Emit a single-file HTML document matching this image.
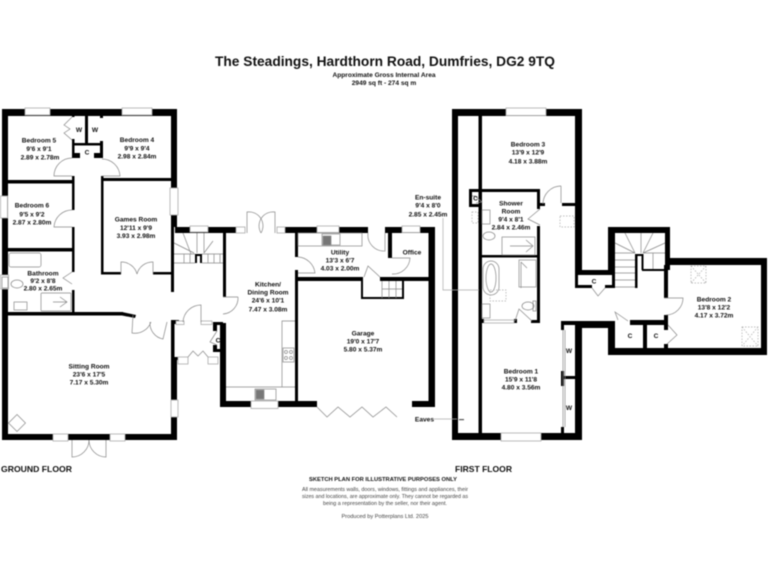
<!DOCTYPE html>
<html><head><meta charset="utf-8"><title>The Steadings floor plan</title>
<style>
html,body{margin:0;padding:0;background:#fff;width:768px;height:576px;overflow:hidden}
svg{display:block;filter:blur(.45px)}
text{font-family:"Liberation Sans",sans-serif;fill:#111}
.r{font-size:6.6px;font-weight:bold;text-anchor:middle;fill:#222}
.t{font-size:5.3px;fill:#444;text-anchor:middle}
.w rect{fill:#000}
.win rect{fill:#fff;stroke:#aaa;stroke-width:.8}
.f *{fill:none;stroke:#888;stroke-width:.7}
.s *{fill:none;stroke:#aaa;stroke-width:.7;stroke-dasharray:1.5 1.5}
</style></head><body>
<svg width="768" height="576" viewBox="0 0 768 576" xmlns="http://www.w3.org/2000/svg">
<rect width="768" height="576" fill="#fff"/>
<text x="385" y="66" font-size="13.5" font-weight="bold" text-anchor="middle" textLength="340" lengthAdjust="spacingAndGlyphs">The Steadings, Hardthorn Road, Dumfries, DG2 9TQ</text>
<text x="384" y="77" font-size="6.6" font-weight="bold" text-anchor="middle">Approximate Gross Internal Area</text>
<text x="384" y="85" font-size="6.6" font-weight="bold" text-anchor="middle">2949 sq ft - 274 sq m</text>

<g class="w">
<!-- ground: upper block -->
<rect x="2" y="109" width="175" height="7"/><rect x="2" y="109" width="6" height="331"/>
<rect x="171" y="109" width="6" height="118"/><rect x="171" y="227" width="3" height="65"/>
<rect x="72" y="116" width="2.5" height="1"/><rect x="72" y="139" width="2.5" height="19"/>
<rect x="85" y="116" width="3" height="28"/><rect x="100" y="116" width="3" height="2"/><rect x="100" y="141" width="3" height="17"/>
<rect x="72" y="143" width="31" height="2.5"/><rect x="72" y="153" width="8" height="5"/><rect x="94" y="153" width="8" height="5"/>
<rect x="72" y="176" width="2.5" height="34"/><rect x="2" y="180" width="72" height="3.5"/>
<rect x="72" y="227" width="2.5" height="25"/><rect x="2" y="248" width="72" height="3.5"/>
<rect x="72" y="252" width="2.5" height="20"/><rect x="72" y="290" width="2.5" height="24"/>
<rect x="101" y="176" width="2.5" height="98"/><rect x="101" y="178" width="72" height="3"/>
<rect x="101" y="272" width="20" height="2.5"/><rect x="153" y="272" width="20" height="2.5"/>
<!-- sitting -->
<rect x="2" y="312" width="121" height="3.5"/><polygon points="122,312 136,315 135,318 122,315.5"/>
<rect x="2" y="434" width="175" height="6"/><rect x="171" y="320" width="3.5" height="40"/><rect x="171" y="357" width="6" height="83"/>
<rect x="171" y="320" width="8" height="4"/>
<!-- porch -->
<rect x="177" y="357" width="2" height="3"/><rect x="213" y="322" width="10" height="3"/><rect x="213" y="322" width="4" height="9"/><rect x="213" y="345" width="4" height="7"/><rect x="213" y="349" width="10" height="3"/>
<rect x="220" y="322" width="3" height="85"/><rect x="220" y="323" width="6" height="84"/>
<!-- stairs top / kitchen -->
<rect x="175" y="227" width="61" height="6"/><rect x="285" y="227" width="83" height="6"/><rect x="385" y="227" width="50" height="6"/>
<rect x="223" y="233" width="3" height="64"/><rect x="195" y="254" width="7" height="2"/><rect x="195" y="254" width="2" height="9"/><rect x="200" y="254" width="2" height="9"/>
<rect x="220" y="401" width="97" height="6"/><rect x="412" y="401" width="23" height="6"/><rect x="428.500" y="227" width="6.500" height="180"/>
<rect x="295" y="233" width="3" height="24"/><rect x="295" y="270" width="3" height="137"/>
<rect x="296" y="277" width="66" height="4"/><rect x="380" y="277" width="49" height="4"/>
<rect x="361" y="277" width="2" height="22"/><rect x="361" y="297" width="43" height="2"/><rect x="402" y="281" width="2" height="18"/>
<rect x="388" y="233" width="4" height="25"/>
<!-- first floor -->
<rect x="452" y="109" width="130" height="7"/><rect x="452" y="109" width="6" height="331"/><rect x="478.500" y="116" width="3.500" height="319"/>
<rect x="575" y="109" width="7" height="166"/><rect x="452" y="433" width="130" height="7"/><rect x="575" y="321" width="7" height="119"/>
<rect x="469" y="189" width="71" height="3"/><rect x="469" y="189" width="3" height="18"/><rect x="469" y="204" width="13" height="3"/>
<rect x="537" y="189" width="3" height="20"/><rect x="537" y="226" width="3" height="96"/><rect x="482" y="255" width="58" height="2.500"/>
<rect x="540" y="203" width="5" height="3"/><rect x="562" y="203" width="13" height="3"/>
<rect x="481" y="319" width="3" height="4"/><rect x="514" y="319" width="3" height="4"/><rect x="531" y="320" width="9" height="3"/>
<rect x="561" y="321" width="54" height="4"/><rect x="561" y="321" width="3" height="9"/><rect x="561" y="371" width="3" height="15"/><rect x="561" y="376" width="17" height="3"/><rect x="561" y="427" width="3" height="6"/>
<rect x="578" y="321" width="37" height="7"/>
<rect x="575" y="270" width="40" height="5"/><rect x="575" y="270" width="3" height="18"/><rect x="575" y="285" width="17" height="3"/><rect x="605" y="285" width="10" height="3"/><rect x="612" y="270" width="3" height="18"/>
<rect x="608" y="227" width="7" height="48"/><rect x="608" y="227" width="62" height="6"/><rect x="665" y="227" width="5" height="43"/>
<rect x="665" y="258" width="102" height="7"/><rect x="761" y="258" width="6" height="97"/><rect x="608" y="348" width="159" height="7"/><rect x="608" y="321" width="7" height="34"/>
<rect x="664" y="265" width="4" height="33"/><rect x="664" y="315" width="4" height="15"/><rect x="664" y="344" width="4" height="6"/><rect x="630" y="320" width="37" height="5"/>
<rect x="643" y="325" width="4" height="25"/>
<rect x="635" y="254" width="8" height="2"/><rect x="635" y="254" width="2.500" height="34"/><rect x="641.500" y="254" width="2" height="16"/><rect x="642" y="269" width="23" height="2"/>
</g>

<g class="win">
<rect x="25" y="108" width="25" height="7"/><rect x="122" y="108" width="30" height="7"/><rect x="170" y="188" width="8" height="27"/><rect x="0.500" y="196" width="7" height="22"/>
<rect x="0.500" y="275" width="8" height="14"/><rect x="190" y="226" width="18" height="6"/><rect x="171" y="400" width="7" height="17"/>
<rect x="53" y="434" width="15" height="7"/><rect x="110" y="434" width="15" height="7"/>
<rect x="176" y="321" width="8" height="3.500"/><rect x="201" y="321" width="11" height="3.500"/><rect x="178" y="357" width="10" height="7"/><rect x="208" y="357" width="10" height="7"/>
<rect x="236" y="227" width="9" height="6"/><rect x="277" y="227" width="8" height="6"/><rect x="317" y="226" width="22" height="6.500"/><rect x="402" y="226" width="18" height="6.500"/><rect x="251" y="401" width="27" height="7.500"/>
<rect x="506" y="108" width="40" height="7.500"/><rect x="501" y="433" width="40" height="8"/><rect x="484" y="320" width="30" height="3"/>
</g>

<g class="f">
<path d="M72 117l-8 8 6 4-6 4 8 7"/>
<path d="M72 176H54a18 18 0 0 1 18-18M102 159a18 18 0 0 1 18 17H102"/>
<path d="M72 210a18 18 0 0 0-18 17H72"/>
<path d="M121 274v-12a16 16 0 0 1 16 12v0M153 274v-12a16 16 0 0 0-16 12"/>
<path d="M72 272l-9 6 9 6"/>
<path d="M133 315l-1 18a17 17 0 0 0 19-11M167 322l-4 17a16 16 0 0 1-13-17"/>
<path d="M183 322a18 18 0 0 1 18-17v17"/>
<path d="M217 331l-7 11 7 3M188 357l5-6 5 5 5-5 5 6"/>
<path d="M72 440v17a17 17 0 0 0 17-17M106 440v17a17 17 0 0 1-17-17"/>
<path d="M247 233v-21a14 14 0 0 1 14 21M275 233v-21a14 14 0 0 0-14 21"/>
<path d="M298 257a18 18 0 0 1 17 16H298"/><path d="M238 297a16 16 0 0 1-15 17M223 297h15"/>
<path d="M368 233a16 16 0 0 0 17 18V233"/><path d="M392 258h18a17 17 0 0 1-18 16"/>
<path d="M364 277l4-11 12 11" stroke="#444"/>
<path d="M317 407l10 10 11-10 12 10 12-10 11 10 13-10 11 10"/>
<rect x="298" y="233" width="64" height="13"/><rect x="322" y="234" width="18" height="11"/><rect x="323" y="236" width="8" height="9" style="fill:#777"/>
<path d="M282 387V321h13M226 387h69"/><rect x="283" y="348" width="11" height="14"/><circle cx="286" cy="352" r="1.500"/><circle cx="291" cy="352" r="1.500"/><circle cx="286" cy="358" r="1.500"/><circle cx="291" cy="358" r="1.500"/>
<rect x="255" y="389" width="21" height="11"/><rect x="256" y="390" width="8" height="9" style="fill:#777"/>
<path d="M382 281v17M389 281v17M396 281v17M382 289h20"/>
<!-- ground stairs -->
<path d="M174 243l20 10M183 233l8 21M197 233v20M204 233v20M213 241l-9 12M174 254h21M202 254h21M174 263h21M202 263h21M184 254v9M190 254v9M208 254v9M214 254v9M220 254v9"/>
<rect x="9" y="253" width="32" height="14" rx="2"/><ellipse cx="17" cy="284" rx="6" ry="4"/><rect x="2" y="277" width="6" height="11"/>
<rect x="41" y="293" width="30" height="18" rx="1"/><path d="M60 297l7 5-7 5M53 302h14"/><rect x="14" y="302" width="13" height="8"/>
<rect x="11" y="417" width="12" height="12" transform="rotate(45 17 423)"/>
<!-- shower/ensuite -->
<rect x="482" y="210" width="8" height="14"/><ellipse cx="489" cy="236" rx="6" ry="4"/><rect x="502" y="237" width="33" height="18"/><path d="M526 240l7 6-7 6M510 246h22"/>
<rect x="483" y="261" width="16" height="34" rx="8"/><ellipse cx="491" cy="278" rx="5" ry="14"/><rect x="519" y="260" width="17" height="27"/><path d="M521 288V262M527 268l-6-6"/>
<ellipse cx="528" cy="306" rx="6" ry="4"/><rect x="533" y="301" width="3" height="10"/><rect x="482" y="304" width="8" height="14"/>
<path d="M472 196h3l7 6-6 1M561 186a18 18 0 0 0-18 18M561 186v17M540 209l-12 10 12 6"/><path d="M515 321l4-12 13 12"/>
<path d="M592 288l6 8 7-8"/>
<path d="M618 320l-3-8 13 9M664 298h19a17 17 0 0 1-17 17M668 325l9 10-10 9"/>
<path d="M563 330v97M565 330v97"/>
<!-- first floor stairs -->
<path d="M615 243l20 10M625 233l10 20M641 233v20M653 233l-10 20M665 243l-22 10M615 253h20M615 260h20M615 267h20M615 273h20M615 280h20M615 287h20M643 253h22M653 253v16"/>
</g>
<g class="s">
<rect x="472" y="212" width="6" height="11"/><rect x="560" y="216" width="14" height="11"/><rect x="490" y="290" width="16" height="11"/>
<rect x="691" y="266" width="15" height="17"/><path d="M691 266l15 17M706 266l-15 17"/>
<rect x="742" y="327" width="16" height="19"/><path d="M742 327l16 19M758 327l-16 19"/>
</g>
<path d="M443 218v72h36M434 419h23" fill="none" stroke="#aaa" stroke-width=".7"/><rect x="459" y="419" width="5" height="1.200" fill="#555"/>

<g class="r">
<text x="39" y="142.500">Bedroom 5</text><text x="39" y="151">9'6 x 9'1</text><text x="40" y="159.500">2.89 x 2.78m</text>
<text x="137" y="142">Bedroom 4</text><text x="137" y="150.500">9'9 x 9'4</text><text x="137" y="158.500">2.98 x 2.84m</text>
<text x="32" y="207.500">Bedroom 6</text><text x="32" y="216.500">9'5 x 9'2</text><text x="32" y="224.500">2.87 x 2.80m</text>
<text x="136" y="221.500">Games Room</text><text x="136" y="230">12'11 x 9'9</text><text x="136" y="238">3.93 x 2.98m</text>
<text x="43" y="275.500">Bathroom</text><text x="43" y="283">9'2 x 8'8</text><text x="43" y="290.500">2.80 x 2.65m</text>
<text x="89" y="368.500">Sitting Room</text><text x="89" y="376.500">23'6 x 17'5</text><text x="89" y="384.500">7.17 x 5.30m</text>
<text x="268" y="286.500">Kitchen/</text><text x="268" y="294.500">Dining Room</text><text x="268" y="302.500">24'6 x 10'1</text><text x="268" y="311.500">7.47 x 3.08m</text>
<text x="340" y="254.500">Utility</text><text x="340" y="262.500">13'3 x 6'7</text><text x="340" y="270.500">4.03 x 2.00m</text>
<text x="412" y="254.500">Office</text>
<text x="363" y="335.500">Garage</text><text x="363" y="343.500">19'0 x 17'7</text><text x="363" y="351.500">5.80 x 5.37m</text>
<text x="428" y="199.500">En-suite</text><text x="428" y="207.500">9'4 x 8'0</text><text x="428" y="216.500">2.85 x 2.45m</text>
<text x="528" y="146.500">Bedroom 3</text><text x="528" y="154.500">13'9 x 12'9</text><text x="528" y="163.500">4.18 x 3.88m</text>
<text x="511" y="205.500">Shower</text><text x="511" y="213.500">Room</text><text x="511" y="221.500">9'4 x 8'1</text><text x="511" y="229.500">2.84 x 2.46m</text>
<text x="521" y="373.500">Bedroom 1</text><text x="521" y="381.500">15'9 x 11'8</text><text x="521" y="389.500">4.80 x 3.56m</text>
<text x="714" y="301.500">Bedroom 2</text><text x="714" y="309.500">13'8 x 12'2</text><text x="714" y="317.500">4.17 x 3.72m</text>
<text x="79" y="132">W</text><text x="95" y="132">W</text><text x="87" y="154.500">C</text><text x="218" y="342.500">C</text>
<text x="475.500" y="200.500">C</text><text x="594" y="283.500">C</text><text x="630" y="338">C</text><text x="656" y="338">C</text>
<text x="569" y="353">W</text><text x="569" y="410">W</text><text x="434" y="421.500" text-anchor="end">Eaves</text>
</g>

<text x="1" y="472" font-size="8.500" font-weight="bold" textLength="71" lengthAdjust="spacingAndGlyphs" fill="#333">GROUND FLOOR</text>
<text x="455" y="472" font-size="8.500" font-weight="bold" textLength="57" lengthAdjust="spacingAndGlyphs" fill="#333">FIRST FLOOR</text>
<text x="383" y="481" font-size="5.600" font-weight="bold" text-anchor="middle" textLength="148" lengthAdjust="spacingAndGlyphs">SKETCH PLAN FOR ILLUSTRATIVE PURPOSES ONLY</text>
<text class="t" x="385" y="491" textLength="166" lengthAdjust="spacingAndGlyphs">All measurements walls, doors, windows, fittings and appliances, their</text>
<text class="t" x="385" y="498" textLength="166" lengthAdjust="spacingAndGlyphs">sizes and locations, are approximate only. They cannot be regarded as</text>
<text class="t" x="385" y="505" textLength="124" lengthAdjust="spacingAndGlyphs">being a representation by the seller, nor their agent.</text>
<text class="t" x="385" y="518" textLength="87" lengthAdjust="spacingAndGlyphs">Produced by Potterplans Ltd. 2025</text>
</svg>
</body></html>
